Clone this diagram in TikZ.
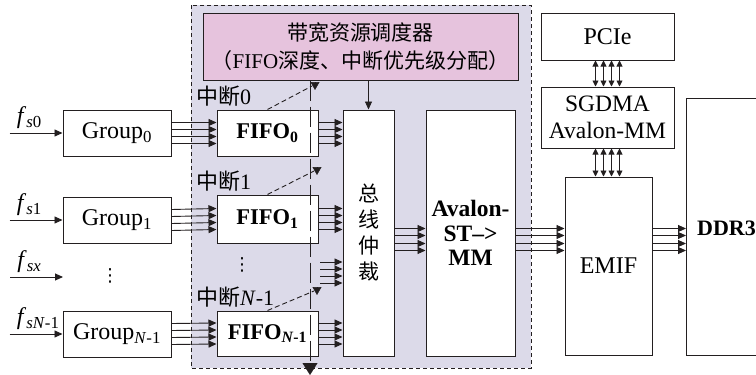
\documentclass[tikz,border=0pt]{standalone}
\usepackage{fontspec}
\setmainfont{Liberation Serif}
\newfontfamily\cjk{Noto Sans CJK SC}
\newfontfamily\symf{DejaVu Sans}
\usetikzlibrary{arrows.meta,calc}
\definecolor{zone}{HTML}{DCDAE9}
\definecolor{pinkbox}{HTML}{E6C3DD}
\definecolor{ink}{HTML}{231F20}

\begin{document}
\begin{tikzpicture}[x=1pt,y=-1pt,>={Triangle[length=8pt,width=7pt]},
 box/.style={draw=ink,line width=1pt,fill=white,inner sep=0pt,font=\fontsize{24}{27}\selectfont},
 fifo/.style={box,minimum width=101,font=\fontsize{22.5}{25}\selectfont\bfseries},
 bus/.style={draw=ink,line width=.9pt,->},
 irq/.style={draw=ink,line width=.9pt,dash pattern=on 5pt off 3pt},
 tri/.style={draw=ink,fill=ink,line width=.5pt,-{Triangle[width=9pt,length=8pt]}}]
 \useasboundingbox (0,0) rectangle (756,375);
 \clip (0,0) rectangle (756,375);

 % dashed zone of the controller
 \draw[fill=zone,draw=ink,line width=1pt,dash pattern=on 4pt off 3pt] (191,5) rectangle (531,368);

 \node[box,fill=pinkbox,minimum width=315,minimum height=67,align=center,font=\fontsize{21}{28}\selectfont] (sched) at (360.5,46.5)
   {\cjk 带宽资源调度器\\{\cjk （}FIFO{\cjk 深度、中断优先级分配）}};

 % groups and fifos
 \node[box,minimum width=108,minimum height=46] (g0) at (117,133) {Group\textsubscript{0}};
 \node[box,minimum width=108,minimum height=46] (g1) at (117,220) {Group\textsubscript{1}};
 \node[box,minimum width=108,minimum height=46] (gn) at (117,334) {Group\textsubscript{\textit{N}-1}};
 \node[fifo,minimum height=46] (f0) at (267.5,133) {FIFO\textsubscript{0}};
 \node[fifo,minimum height=48] (f1) at (267.5,219) {FIFO\textsubscript{1}};
 \node[fifo,minimum height=45] (fn) at (267.5,333.5) {FIFO\textsubscript{\textit{N}-1}};

 \node[box,minimum width=51,minimum height=246,align=center,font=\cjk\fontsize{21}{26}\selectfont] (arb) at (368.5,233) {总\\线\\仲\\裁};
 \node[box,minimum width=89,minimum height=246,align=center,font=\fontsize{23.5}{24.5}\selectfont\bfseries] (ava) at (470.5,233) {Avalon-\\ST\textendash{}>\\MM};

 \node[box,minimum width=133,minimum height=47] (pcie) at (607.5,36.5) {PCIe};
 \node[box,minimum width=133,minimum height=61,align=center,font=\fontsize{23.5}{27}\selectfont] (dma) at (607.5,117.5) {SGDMA\\Avalon-MM};
 \node[box,minimum width=87,minimum height=178] (emif) at (608.5,266) {EMIF};
 \node[box,minimum width=120,minimum height=257,anchor=north west] (ddr) at (686,98) {};
 \node[font=\fontsize{22}{24}\selectfont\bfseries,anchor=west,inner sep=0pt] (ddrtxt) at (697,228) {DDR3};

 % inputs
 \foreach \g/\s in {g0/\textit{s}0,g1/\textit{s}1,gn/\textit{sN}-1}{
   \coordinate (in\g) at ($(\g.west)+(-53,0)$);
   \draw[bus] (in\g) -- (\g.west)
     node[at start,anchor=south west,inner sep=1pt,xshift=6pt,yshift=3pt,font=\fontsize{24}{26}\selectfont]{\textit{f}\textsubscript{\s}};
 }
 \coordinate (inx) at (10,277);
 \coordinate (outx) at (63,277);
 \draw[bus] (inx) -- (outx)
   node[at start,anchor=south west,inner sep=1pt,xshift=6pt,yshift=3pt,font=\fontsize{24}{26}\selectfont]{\textit{f}\textsubscript{\textit{sx}}};
 \node[font=\symf\fontsize{18}{18}\selectfont,inner sep=0pt] (gdots) at (110,276) {⋮};
 \node[font=\symf\fontsize{18}{18}\selectfont,inner sep=0pt] (fdots) at (242,265) {⋮};

 % buses
 \foreach \a/\b in {g0/f0,g1/f1,gn/fn}
   \foreach \d in {-10.5,-3.5,3.5,10.5}
     \draw[bus] ($(\a.east)+(0,\d)$) -- ($(\b.west)+(0,\d)$);
 \foreach \a in {f0,f1,fn}
   \foreach \d in {-10.5,-3.5,3.5,10.5}
     \draw[bus] ($(\a.east)+(0,\d)$) -- ($(arb.west|-\a.east)+(0,\d)$);
 \coordinate (fmid) at (320,272.5);
 \foreach \d in {-10.5,-3.5,3.5,10.5}
   \draw[bus] ($(fmid)+(0,\d)$) -- ($(arb.west|-fmid)+(0,\d)$);
 \coordinate (busy) at (0,239.5);
 \foreach \a/\b in {arb/ava,ava/emif,emif/ddr}
   \foreach \d in {-11,-4,4,11}
     \draw[bus] ($(\a.east|-busy)+(0,\d)$) -- ($(\b.west|-busy)+(0,\d)$);
 \foreach \d in {-12,-4,4,12}{
   \draw[draw=ink,line width=.9pt,{Triangle[length=6pt,width=6pt]}-{Triangle[length=6pt,width=6pt]}]
     ($(pcie.south)+(\d,0)$) -- ($(dma.north)+(\d,0)$);
   \draw[draw=ink,line width=.9pt,{Triangle[length=6pt,width=6pt]}-{Triangle[length=6pt,width=6pt]}]
     ($(dma.south)+(\d,0)$) -- ($(dma.south|-emif.north)+(\d,0)$);
 }
 \draw[bus] (sched.south-|arb.north) -- (arb.north);

 % interrupt line
 \coordinate (irqb) at (310,363);
 \draw[draw=ink,line width=1pt,dash pattern=on 20pt off 6pt] (sched.south-|irqb) -- (irqb);
 \draw[draw=ink,fill=ink,-{Triangle[width=15pt,length=12pt]}] (irqb) -- ++(0,12);
 \coordinate (i0) at (315,82);
 \coordinate (i1) at (317,167);
 \coordinate (irqn) at (317,287);
 \foreach \f/\i in {f0/i0,f1/i1,fn/irqn}{
   \draw[irq] (\f.north) -- ($(\i)+(-3,4)$);
   \draw[tri] (\i) -- ++(0,8);
 }
 \node[anchor=west,inner sep=0pt,font=\fontsize{22}{24}\selectfont] (l0) at (196,96) {{\cjk 中断}0};
 \node[anchor=west,inner sep=0pt,font=\fontsize{22}{24}\selectfont] (l1) at (196,181) {{\cjk 中断}1};
 \node[anchor=west,inner sep=0pt,font=\fontsize{22}{24}\selectfont] (ln) at (196,297) {{\cjk 中断}\textit{N}-1};
\end{tikzpicture}
\end{document}
